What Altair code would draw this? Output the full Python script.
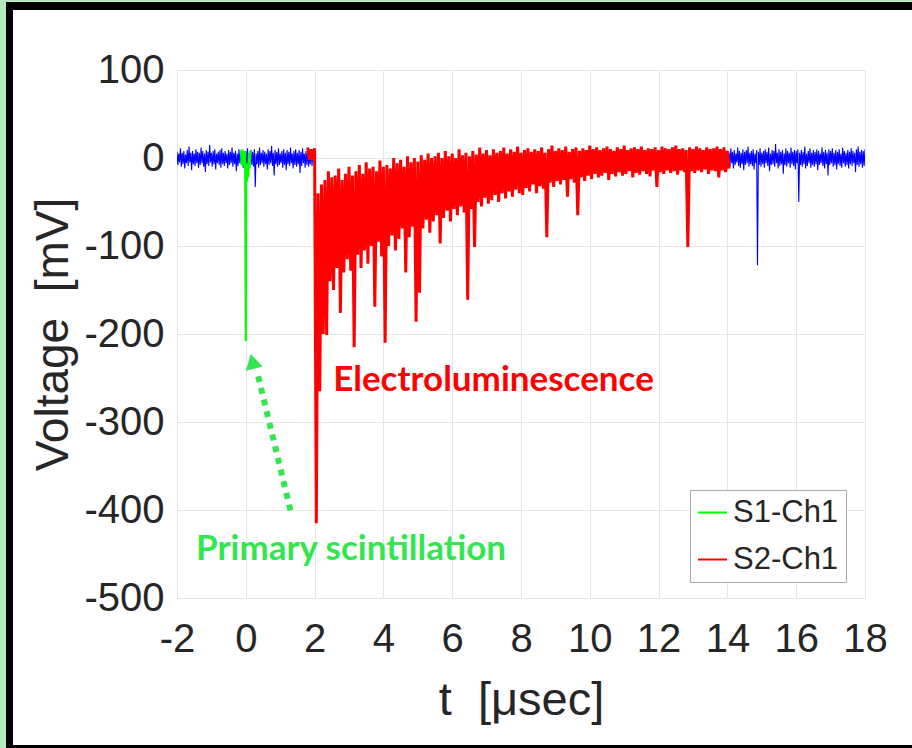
import altair as alt
import pandas as pd

# ---------------- data ----------------
X_TICKS = [-2, 0, 2, 4, 6, 8, 10, 12, 14, 16, 18]
Y_TICKS = [-500, -400, -300, -200, -100, 0, 100]

# Blue trace (whole channel), left part: t = -2.00 ... 1.95 (0.05 us samples), envelope hi / lo
B1_T0, B1_DT = -2.0, 0.05
B1_HI = [7, 5, 11, 6, 8, 4, 9, 13, 6, 8,
         5, 10, 7, 6, 12, 8, 5, 9, 7, 15,
         6, 8, 10, 5, 7, 9, 11, 6, 8, 5,
         9, 7, 12, 6, 8, 5, 10, 7, 9, 6,
         8, 11, 6, 9, 7, 10, 5, 8, 12, 6,
         9, 7, 5, 10, 8, 14, 6, 9, 7, 11,
         5, 8, 10, 6, 9, 7, 12, 5, 8, 10,
         6, 9, 7, 11, 5, 8, 10, 6, 9, 7]
B1_LO = [-8, -5, -10, -7, -12, -6, -9, -5, -14, -7,
         -9, -6, -11, -8, -6, -10, -16, -7, -9, -5,
         -10, -7, -13, -6, -8, -11, -7, -9, -6, -12,
         -8, -6, -10, -7, -15, -9, -6, -8, -11, -7,
         -9, -12, -6, -8, -10, -33, -7, -11, -8, -6,
         -10, -7, -13, -8, -6, -9, -20, -7, -10, -8,
         -6, -11, -8, -14, -7, -9, -6, -12, -8, -10,
         -7, -17, -9, -6, -11, -8, -10, -7, -9, -6]

# Blue trace, right part: t = 14.00 ... 18.00
B2_T0, B2_DT = 14.0, 0.05
B2_HI = [8, 6, 11, 7, 9, 5, 12, 8, 6, 10,
         7, 9, 13, 6, 8, 10, 5, 9, 7, 11,
         6, 8, 10, 7, 12, 5, 9, 8, 16, 6,
         10, 7, 9, 5, 11, 8, 6, 12, 7, 9,
         8, 10, 6, 9, 7, 13, 5, 8, 11, 6,
         9, 7, 10, 8, 5, 12, 7, 9, 6, 10,
         8, 11, 6, 9, 7, 10, 5, 12, 8, 6,
         9, 7, 11, 8, 6, 10, 13, 7, 9, 8, 10]
B2_LO = [-7, -10, -6, -12, -8, -5, -9, -11, -7, -14,
         -8, -6, -10, -7, -9, -13, -6, -122, -8, -10,
         -7, -11, -6, -9, -15, -8, -7, -10, -6, -12,
         -9, -7, -18, -8, -10, -6, -11, -7, -9, -13,
         -6, -50, -8, -10, -7, -12, -9, -6, -11, -8,
         -10, -7, -14, -8, -6, -9, -12, -7, -20, -8,
         -6, -10, -8, -13, -7, -9, -11, -6, -10, -8,
         -12, -7, -9, -6, -16, -8, -10, -7, -11, -9, -8]

# S2 (electroluminescence), red: t = 1.8 ... 14.0 (0.1 us samples)
R_T0, R_DT = 1.8, 0.1
R_HI = [12, 10, 11, -40, -30, -25, -15, -22, -20, -12,
        -25, -18, -10, -20, -15, -8, -18, -5, -12, -10,
        -15, -3, -10, -8, -12, 0, -6, -2, -10, 2,
        -5, 0, -4, 3, -2, 5, 0, 2, 6, 0,
        8, 2, 5, 0, 10, 3, 6, 2, 8, 4,
        12, 5, 9, 3, 10, 6, 8, 12, 5, 10,
        7, 13, 6, 9, 11, 7, 10, 8, 12, 6,
        10, 14, 8, 11, 9, 13, 7, 10, 12, 8,
        11, 9, 14, 10, 12, 9, 11, 13, 10, 8,
        12, 10, 14, 9, 11, 12, 10, 13, 9, 11,
        10, 12, 9, 13, 11, 10, 12, 14, 10, 11,
        9, 12, 10, 13, 11, 9, 12, 10, 11, 13,
        10, 12, 8]
R_LO = [-2, -3, -415, -265, -200, -201, -140, -150, -125, -176,
        -130, -115, -128, -215, -110, -125, -105, -120, -100, -169,
        -95, -112, -210, -100, -88, -105, -92, -80, -130, -90,
        -78, -186, -153, -80, -70, -85, -72, -65, -97, -68,
        -60, -72, -58, -65, -55, -62, -161, -58, -101, -50,
        -55, -45, -52, -48, -42, -50, -40, -46, -38, -44,
        -36, -40, -42, -34, -38, -30, -40, -32, -35, -90,
        -28, -33, -26, -30, -25, -44, -24, -28, -65, -22,
        -26, -20, -24, -18, -22, -20, -17, -25, -18, -21,
        -16, -20, -18, -15, -22, -17, -19, -15, -18, -21,
        -14, -33, -16, -18, -14, -17, -15, -19, -14, -16,
        -101, -15, -17, -14, -16, -13, -18, -14, -15, -22,
        -14, -16, -12]

# S1 (primary scintillation), green
S1_T = [-0.14, -0.12, -0.10, -0.08, -0.06, -0.04, -0.02, 0.0, 0.01, 0.03, 0.05, 0.07, 0.09, 0.11, 0.13]
S1_V = [9, -8, 10, -9, 8, -10, 7, -208, -6, -27, -8, -22, 5, -12, 8]

SERIES = ["S1-Ch1", "S2-Ch1", "Ch1"]
COLORS = ["#00ff00", "#ff0000", "#0000ff"]

# annotations
EL_TEXT, EL_T, EL_V = "Electroluminescence", 7.2, -252
PS_TEXT, PS_T, PS_V = "Primary scintillation", 3.06, -444
ARROW_T = [1.314, 0.36]
ARROW_V = [-403, -248]
HEAD_T, HEAD_V = 0.195, -231
GREEN_TXT = "#33e650"
NB = "\u00a0"


def zigzag(t0, dt, hi, lo, name):
    rows = []
    for i, (h, l) in enumerate(zip(hi, lo)):
        t = t0 + i * dt
        rows.append({"t": t, "v": h, "series": name, "o": 2 * i})
        rows.append({"t": t + dt / 2, "v": l, "series": name, "o": 2 * i + 1})
    return pd.DataFrame(rows)


blue1 = zigzag(B1_T0, B1_DT, B1_HI, B1_LO, "Ch1")
blue2 = zigzag(B2_T0, B2_DT, B2_HI, B2_LO, "Ch1")
red = zigzag(R_T0, R_DT, R_HI, R_LO, "S2-Ch1")
green = pd.DataFrame({"t": S1_T, "v": S1_V, "series": "S1-Ch1", "o": list(range(len(S1_T)))})

x_enc = alt.X("t:Q", scale=alt.Scale(domain=[-2, 18], nice=False, zero=False),
              axis=alt.Axis(values=X_TICKS, title="t" + NB + " [μsec]", labelPadding=21,
                            labelExpr="'' + datum.value", labelFlush=False, labelOverlap=False,
                            titleY=102, titleBaseline="middle", titleFontSize=47))
y_enc = alt.Y("v:Q", scale=alt.Scale(domain=[-500, 100], nice=False, zero=False),
              axis=alt.Axis(values=Y_TICKS, title="Voltage" + NB + " [mV]", labelPadding=13,
                            labelExpr="'' + datum.value", labelOverlap=False,
                            titleX=-124, titleBaseline="middle", titleFontSize=46))
legend = alt.Legend(values=["S1-Ch1", "S2-Ch1"], title=None, orient="none",
                    legendX=513, legendY=420, symbolType="stroke", symbolSize=841,
                    symbolStrokeWidth=2, labelFont="Liberation Sans", labelFontSize=31,
                    labelColor="#262626", labelOffset=5, padding=7, rowPadding=15,
                    strokeColor="#aaaaaa", fillColor="#ffffff")
c_enc = alt.Color("series:N", scale=alt.Scale(domain=SERIES, range=COLORS), legend=legend)


def trace(df, width):
    return alt.Chart(df).mark_line(strokeWidth=width, clip=True).encode(
        x=x_enc, y=y_enc, color=c_enc, order="o:Q")


layers = [
    trace(blue1, 1.1),
    trace(blue2, 1.1),
    trace(red, 3.0),
    trace(green, 2.2),
]

arrow_df = pd.DataFrame({"t": ARROW_T, "v": ARROW_V})
layers.append(alt.Chart(arrow_df).mark_line(color=GREEN_TXT, strokeWidth=6,
                                            strokeDash=[6, 6], strokeCap="butt").encode(
    x="t:Q", y="v:Q"))
layers.append(alt.Chart(pd.DataFrame({"t": [HEAD_T], "v": [HEAD_V]})).mark_point(
    shape="triangle-up", filled=True, color=GREEN_TXT, opacity=1, size=300, angle=346).encode(
    x="t:Q", y="v:Q"))
layers.append(alt.Chart(pd.DataFrame({"t": [EL_T], "v": [EL_V], "s": [EL_TEXT]})).mark_text(
    font="Lato", fontWeight="bold", fontSize=35, color="#ff0000").encode(
    x="t:Q", y="v:Q", text="s:N"))
layers.append(alt.Chart(pd.DataFrame({"t": [PS_T], "v": [PS_V], "s": [PS_TEXT]})).mark_text(
    font="Lato", fontWeight="bold", fontSize=35, color=GREEN_TXT).encode(
    x="t:Q", y="v:Q", text="s:N"))

# decorative frame around the figure (pixel positions relative to the plot area)
dummy = pd.DataFrame({"a": [0]})


def frame(color, x1, x2, y1, y2):
    return alt.Chart(dummy).mark_rect(color=color).encode(
        x=alt.value(x1), x2=alt.value(x2), y=alt.value(y1), y2=alt.value(y2))


layers += [
    frame("#b3e9bd", -177, -171, -70, 678),
    frame("#b3e9bd", -177, 735, -70, -68),
    frame("#000000", -171, -164, -68, 678),
    frame("#000000", -171, 735, -68, -60),
    frame("#000000", -171, 735, 675, 678),
]

chart = alt.layer(*layers).properties(
    width=688, height=528,
    padding={"left": 177, "top": 70, "right": 47, "bottom": 150},
    autosize=alt.AutoSizeParams(type="none"),
    background="#ffffff",
).configure_view(stroke="#b5b5b5", strokeWidth=1).configure_axis(
    grid=True, gridColor="#e6e6e6", gridWidth=1, domain=False, ticks=False,
    labelFont="Liberation Sans", labelFontSize=40, labelColor="#262626",
    titleFont="Liberation Sans", titleFontWeight="normal", titleColor="#262626",
)

chart.save("out.html", embed_options={"renderer": "svg", "actions": False})
